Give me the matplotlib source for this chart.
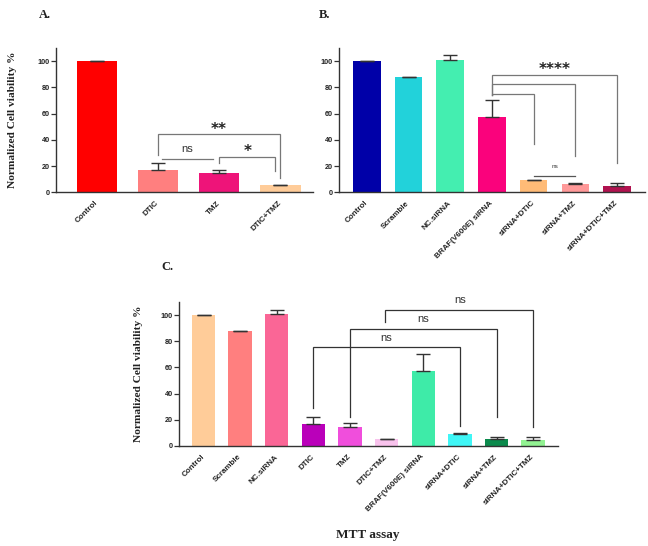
import matplotlib
matplotlib.use('Agg')
import matplotlib.pyplot as plt
import numpy as np

# panel A
a_labels = ['Control', 'DTIC', 'TMZ', 'DTIC+TMZ']
a_values = [100, 17.3, 14.7, 5.3]
a_errors = [0.4, 4.7, 2.6, 0.6]
a_colors = ['#FF0000', '#FF7F7F', '#EE1479', '#FFCC99']

# panel B
b_labels = ['Control', 'Scramble', 'NC.siRNA', 'BRAF(V600E) siRNA',
            'siRNA+DTIC', 'siRNA+TMZ', 'siRNA+DTIC+TMZ']
b_values = [100, 87.8, 100.5, 57.5, 9.1, 6.3, 5.0]
b_errors = [0.4, 0.4, 3.8, 12.6, 0.5, 1.0, 2.3]
b_colors = ['#0000A8', '#22D2DA', '#44EEB0', '#FA027C', '#FFBB77', '#FF9999', '#B0124F']

# panel C
c_labels = ['Control', 'Scramble', 'NC.siRNA', 'DTIC', 'TMZ', 'DTIC+TMZ',
            'BRAF(V600E) siRNA', 'siRNA+DTIC', 'siRNA+TMZ', 'siRNA+DTIC+TMZ']
c_values = [100, 87.6, 100.5, 17.0, 14.6, 5.1, 57.4, 9.2, 5.6, 4.6]
c_errors = [0.4, 0.4, 3.6, 5.0, 2.6, 0.6, 12.6, 0.4, 1.0, 2.3]
c_colors = ['#FFCC99', '#FF7F7F', '#FA6696', '#BA00BA', '#F04EDC', '#F8C2EC',
            '#3EEBA8', '#40F6F6', '#0B8A4C', '#92F292']

SANS = 'Liberation Sans'
SERIF = 'Liberation Serif'

fig = plt.figure(figsize=(6.48, 5.46), dpi=100)


def bar_panel(rect, labels, values, errors, colors, xlim, width):
    ax = fig.add_axes(rect)
    x = np.arange(len(values))
    ax.bar(x, values, width=width, color=colors, zorder=2)
    ax.errorbar(x, values, yerr=[np.zeros(len(errors)), errors], fmt='none',
                ecolor='#333333', elinewidth=1, capsize=5, capthick=1, zorder=3)
    ax.set_xlim(*xlim)
    ax.set_ylim(0, 110)
    ax.set_yticks([0, 20, 40, 60, 80, 100])
    ax.set_xticks(x)
    ax.set_xticklabels(labels, rotation=45, ha='right', va='center',
                       rotation_mode='anchor', fontsize=5.8, fontweight='bold',
                       family=SANS, color='#222222')
    for lab in ax.get_yticklabels():
        lab.set_fontsize(5.2)
        lab.set_fontweight('bold')
        lab.set_family(SANS)
        lab.set_color('#222222')
    ax.tick_params(axis='x', length=0, pad=7)
    ax.tick_params(axis='y', length=3.5, width=0.9, pad=1, color='#333333')
    for s in ['top', 'right']:
        ax.spines[s].set_visible(False)
    for s in ['left', 'bottom']:
        ax.spines[s].set_linewidth(1.0)
        ax.spines[s].set_color('#333333')
    return ax


def bracket(ax, x1, x2, y, y1, y2, color):
    ax.plot([x1, x1, x2, x2], [y1, y, y, y2], color=color, lw=0.9,
            solid_joinstyle='miter', clip_on=False, zorder=4)


def note(ax, x, y, s, size, stars=False):
    if stars:
        ax.text(x, y, s, ha='center', va='baseline', fontsize=size,
                fontweight='bold', family='DejaVu Sans', color='#222222')
    else:
        ax.text(x, y, s, ha='center', va='baseline', fontsize=size,
                family=SANS, color='#333333')


# A
ax_a = bar_panel([0.0864, 0.6478, 0.3961, 0.2643], a_labels, a_values, a_errors,
                 a_colors, (-0.67, 3.53), 0.665)
bracket(ax_a, 1, 3, 44.2, 28.4, 10.7, '#777777')
note(ax_a, 2, 44.8, '**', 11, stars=True)
bracket(ax_a, 1.06, 1.9, 25.4, 25.4, 25.4, '#777777')
note(ax_a, 1.48, 30.8, 'ns', 8)
bracket(ax_a, 2, 2.92, 26.6, 22.6, 16.2, '#777777')
note(ax_a, 2.46, 28.0, '*', 11, stars=True)

# B
ax_b = bar_panel([0.5236, 0.6478, 0.4718, 0.2643], b_labels, b_values, b_errors,
                 b_colors, (-0.66, 6.67), 0.66)
bracket(ax_b, 3, 6, 89.7, 74, 22, '#777777')
bracket(ax_b, 3, 5, 82.8, 74, 27.6, '#777777')
bracket(ax_b, 3, 4, 75.2, 74, 36.7, '#777777')
note(ax_b, 4.5, 90.0, '****', 11, stars=True)
bracket(ax_b, 4, 5, 12.4, 12.4, 12.4, '#555555')
note(ax_b, 4.5, 18.2, 'ns', 4.6)

# C
ax_c = bar_panel([0.2762, 0.1832, 0.5844, 0.2637], c_labels, c_values, c_errors,
                 c_colors, (-0.67, 9.67), 0.64)
bracket(ax_c, 3, 7, 75.3, 28.8, 15.3, '#333333')
note(ax_c, 5, 80.5, 'ns', 8)
bracket(ax_c, 4, 8, 89.0, 22.4, 22.0, '#333333')
note(ax_c, 6, 94.5, 'ns', 8)
bracket(ax_c, 4.95, 9, 103.8, 94.4, 14.7, '#333333')
note(ax_c, 7, 109.3, 'ns', 8)

# y labels, panel letters, x title
ylab = 'Normalized Cell viability %'
fig.text(0.020, 0.780, ylab, rotation=90, ha='center', va='center',
         fontsize=8.2, fontweight='bold', family=SERIF, color='#222222')
fig.text(0.213, 0.315, ylab, rotation=90, ha='center', va='center',
         fontsize=8.2, fontweight='bold', family=SERIF, color='#222222')
fig.text(0.0687, 0.9725, 'A.', ha='center', va='center', fontsize=9,
         fontweight='bold', family=SERIF, color='#222222')
fig.text(0.5015, 0.9725, 'B.', ha='center', va='center', fontsize=9,
         fontweight='bold', family=SERIF, color='#222222')
fig.text(0.258, 0.511, 'C.', ha='center', va='center', fontsize=9,
         fontweight='bold', family=SERIF, color='#222222')
fig.text(0.568, 0.0201, 'MTT assay', ha='center', va='center', fontsize=9.5,
         fontweight='bold', family=SERIF, color='#222222')

fig.savefig('out.png', dpi=100)
